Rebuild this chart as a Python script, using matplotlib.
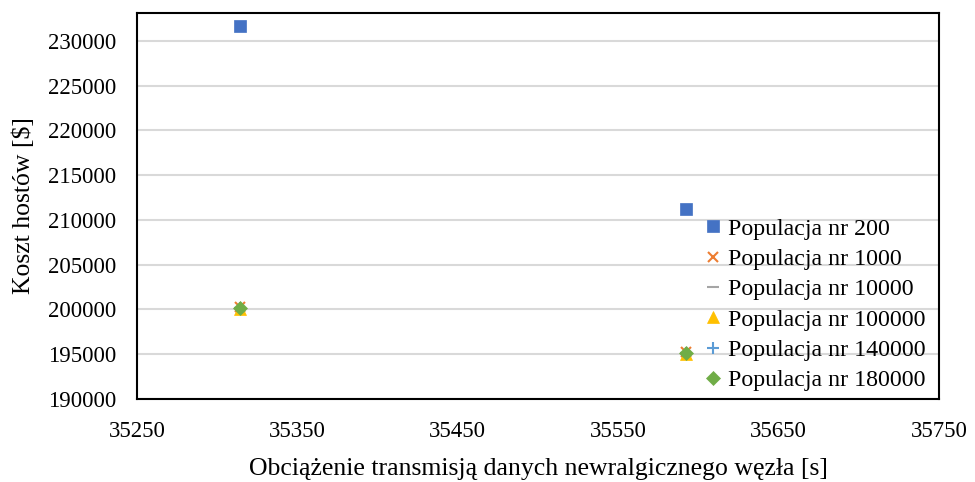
import matplotlib.pyplot as plt

plt.rcParams["font.family"] = ["Liberation Serif", "DejaVu Serif"]

# x: obciążenie [s], y: koszt [$]
x_vals = [35314, 35592]
pop_200 = [231700, 211200]
pop_1000 = [200250, 195250]
pop_10000 = [200150, 195150]
pop_100000 = [200000, 195000]
pop_140000 = [200150, 195150]
pop_180000 = [200150, 195120]

labels = ["Populacja nr 200", "Populacja nr 1000", "Populacja nr 10000",
          "Populacja nr 100000", "Populacja nr 140000", "Populacja nr 180000"]
series = [pop_200, pop_1000, pop_10000, pop_100000, pop_140000, pop_180000]
colors = ["#4472C4", "#ED7D31", "#A5A5A5", "#FFC000", "#5B9BD5", "#70AD47"]
markers = ["s", "x", "_", "^", "+", "D"]
sizes = [9, 7, 9, 8, 9, 7]

fig = plt.figure(figsize=(9.75, 4.82), dpi=100)
ax = fig.add_axes([137 / 975, 1 - 399 / 482, 802 / 975, 386 / 482])

for s, lab, c, m, ms in zip(series, labels, colors, markers, sizes):
    ax.plot(x_vals, s, linestyle="none", marker=m, color=c, markersize=ms,
            markeredgewidth=1.5 if m in "x+_" else 0.5, label=lab)

ax.set_xlim(35250, 35750)
ax.set_ylim(190000, 233100)
ax.set_xticks(range(35250, 35751, 100))
ax.set_yticks(range(190000, 230001, 5000))
ax.yaxis.grid(True, color="#D9D9D9", linewidth=1.5)
ax.set_axisbelow(True)
ax.tick_params(length=0, labelsize=16.5)
ax.tick_params(axis="x", pad=16)
ax.tick_params(axis="y", pad=15)
for sp in ax.spines.values():
    sp.set_color("black")
    sp.set_linewidth(1.5)

ax.set_xlabel("Obciążenie transmisją danych newralgicznego węzła [s]", fontsize=18.5, labelpad=11)
ax.set_ylabel("Koszt hostów [$]", fontsize=18.5, labelpad=9)

ax.legend(loc="lower right", bbox_to_anchor=(0.995, -0.005), frameon=False, fontsize=17.2,
          handlelength=0.7, handletextpad=0.25, labelspacing=0.36, borderaxespad=0.0)

fig.savefig("out.png", dpi=100)
